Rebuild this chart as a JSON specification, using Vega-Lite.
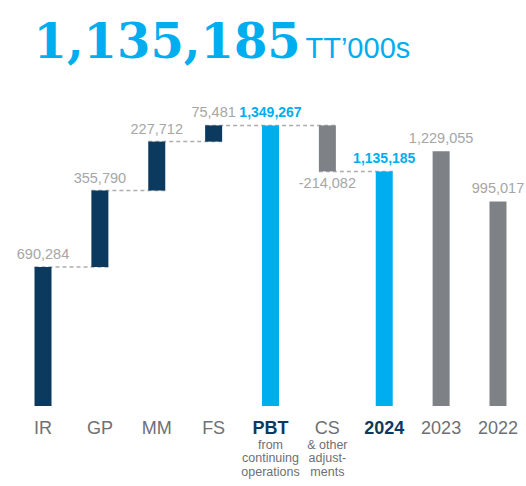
{
  "$schema": "https://vega.github.io/schema/vega-lite/v6.json",
  "autosize": "none",
  "width": 511,
  "height": 316,
  "padding": {"left": 15, "top": 90, "right": 0, "bottom": 80},
  "background": "white",
  "datasets": {
    "bars": [
      {"cat": "IR", "start": 0, "end": 690284, "label": "690,284", "kind": "increase"},
      {"cat": "GP", "start": 690284, "end": 1046074, "label": "355,790", "kind": "increase"},
      {"cat": "MM", "start": 1046074, "end": 1273786, "label": "227,712", "kind": "increase"},
      {"cat": "FS", "start": 1273786, "end": 1349267, "label": "75,481", "kind": "increase"},
      {"cat": "PBT", "start": 0, "end": 1349267, "label": "1,349,267", "kind": "total"},
      {"cat": "CS", "start": 1349267, "end": 1135185, "label": "-214,082", "kind": "decrease"},
      {"cat": "2024", "start": 0, "end": 1135185, "label": "1,135,185", "kind": "total"},
      {"cat": "2023", "start": 0, "end": 1229055, "label": "1,229,055", "kind": "prior"},
      {"cat": "2022", "start": 0, "end": 995017, "label": "995,017", "kind": "prior"}
    ],
    "links": [
      {"from": "IR", "to": "GP", "level": 690284},
      {"from": "GP", "to": "MM", "level": 1046074},
      {"from": "MM", "to": "FS", "level": 1273786},
      {"from": "FS", "to": "CS", "level": 1349267},
      {"from": "CS", "to": "2024", "level": 1135185}
    ]
  },
  "resolve": {"axis": {"x": "independent"}},
  "layer": [
    {
      "data": {"name": "links"},
      "mark": {"type": "rule", "color": "#adadad", "strokeWidth": 1.5, "strokeDash": [4, 3]},
      "encoding": {
        "x": {
          "field": "from", "type": "nominal", "bandPosition": 0,
          "scale": {"domain": ["IR", "GP", "MM", "FS", "PBT", "CS", "2024", "2023", "2022"], "paddingInner": 0.701, "paddingOuter": 0.343},
          "axis": {
            "orient": "bottom", "title": null, "labelAngle": 0,
            "labelExpr": "datum.value === 'PBT' ? ['from', 'continuing', 'operations'] : datum.value === 'CS' ? ['& other', 'adjust-', 'ments'] : ''",
            "labelFont": "Liberation Sans", "labelFontSize": 12.5, "labelColor": "#6d7075",
            "labelPadding": 42, "labelBaseline": "alphabetic", "labelLineHeight": 13.5,
            "labelOverlap": false, "labelBound": false
          }
        },
        "x2": {"field": "to", "bandPosition": 1},
        "y": {"field": "level", "type": "quantitative", "title": "TT’000s", "scale": {"domain": [42400, 1514200], "zero": false, "nice": false}}
      }
    },
    {
      "data": {"name": "bars"},
      "mark": {"type": "bar", "clip": true},
      "encoding": {
        "x": {
          "field": "cat", "type": "nominal", "sort": null,
          "scale": {"domain": ["IR", "GP", "MM", "FS", "PBT", "CS", "2024", "2023", "2022"], "paddingInner": 0.701, "paddingOuter": 0.343},
          "axis": {
            "orient": "bottom", "labelAngle": 0,
            "title": "1,135,185",
            "titleFont": "DejaVu Serif", "titleFontSize": 48, "titleFontWeight": "bold", "titleColor": "#00aeef",
            "titleX": 18, "titleY": -349, "titleAlign": "left", "titleBaseline": "alphabetic", "titleAngle": 0,
            "labelFont": "Liberation Sans", "labelFontSize": 18,
            "labelColor": {"condition": {"test": "datum.value === 'PBT' || datum.value === '2024'", "value": "#0b3a5e"}, "value": "#6d7075"},
            "labelFontWeight": {"condition": {"test": "datum.value === 'PBT' || datum.value === '2024'", "value": "bold"}, "value": "normal"},
            "labelPadding": 27, "labelBaseline": "alphabetic", "labelOverlap": false, "labelBound": false
          }
        },
        "y": {
          "field": "start", "type": "quantitative", "title": "TT’000s",
          "scale": {"domain": [42400, 1514200], "zero": false, "nice": false}
        },
        "y2": {"field": "end"},
        "color": {
          "field": "kind", "type": "nominal", "legend": null,
          "scale": {"domain": ["increase", "total", "decrease", "prior"], "range": ["#0b3a5e", "#00aeef", "#7e8185", "#7e8185"]}
        }
      }
    },
    {
      "data": {"name": "bars"},
      "transform": [{"filter": "datum.kind === 'increase' || datum.kind === 'prior'"}],
      "mark": {"type": "text", "font": "Liberation Sans", "fontSize": 14.5, "color": "#a6a6a6", "baseline": "alphabetic", "dy": -8},
      "encoding": {
        "x": {"field": "cat", "type": "nominal", "axis": null, "scale": {"domain": ["IR", "GP", "MM", "FS", "PBT", "CS", "2024", "2023", "2022"], "paddingInner": 0.701, "paddingOuter": 0.343}},
        "y": {"field": "end", "type": "quantitative", "title": "TT’000s", "scale": {"domain": [42400, 1514200], "zero": false, "nice": false}},
        "text": {"field": "label"}
      }
    },
    {
      "data": {"name": "bars"},
      "transform": [{"filter": "datum.kind === 'total'"}],
      "mark": {"type": "text", "font": "Liberation Sans", "fontSize": 14, "fontWeight": "bold", "color": "#00aeef", "baseline": "alphabetic", "dy": -8},
      "encoding": {
        "x": {"field": "cat", "type": "nominal", "axis": null, "scale": {"domain": ["IR", "GP", "MM", "FS", "PBT", "CS", "2024", "2023", "2022"], "paddingInner": 0.701, "paddingOuter": 0.343}},
        "y": {"field": "end", "type": "quantitative", "title": "TT’000s", "scale": {"domain": [42400, 1514200], "zero": false, "nice": false}},
        "text": {"field": "label"}
      }
    },
    {
      "data": {"name": "bars"},
      "transform": [{"filter": "datum.kind === 'decrease'"}],
      "mark": {"type": "text", "font": "Liberation Sans", "fontSize": 14.5, "color": "#a6a6a6", "baseline": "alphabetic", "dy": 17},
      "encoding": {
        "x": {"field": "cat", "type": "nominal", "axis": null, "scale": {"domain": ["IR", "GP", "MM", "FS", "PBT", "CS", "2024", "2023", "2022"], "paddingInner": 0.701, "paddingOuter": 0.343}},
        "y": {"field": "end", "type": "quantitative", "title": "TT’000s", "scale": {"domain": [42400, 1514200], "zero": false, "nice": false}},
        "text": {"field": "label"}
      }
    }
  ],
  "config": {
    "view": {"stroke": null},
    "axisX": {"domain": false, "ticks": false, "tickSize": 0, "grid": false},
    "axisY": {
      "domain": false, "ticks": false, "labels": false, "grid": false,
      "titleAngle": 0, "titleX": 290, "titleY": -33, "titleAlign": "left", "titleBaseline": "alphabetic",
      "titleFont": "Liberation Sans", "titleFontSize": 29, "titleFontWeight": "normal", "titleColor": "#00aeef"
    }
  }
}
